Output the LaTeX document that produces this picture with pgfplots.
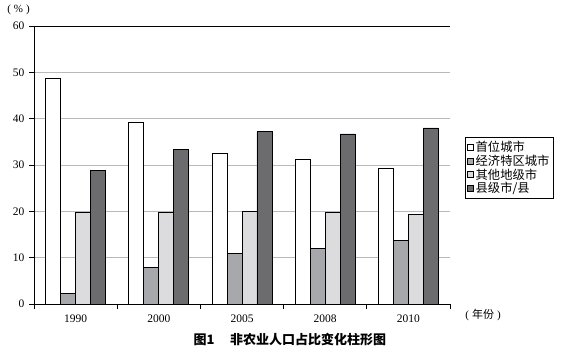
\documentclass[border=0pt]{standalone}
\usepackage{fontspec}
\setmainfont{Liberation Serif}
\newfontfamily\cjk{Noto Sans CJK SC}
\usepackage{pgfplots}
\pgfplotsset{compat=1.18}
\definecolor{cA}{HTML}{FFFFFF}
\definecolor{cB}{HTML}{A7A8AC}
\definecolor{cC}{HTML}{DCDCDE}
\definecolor{cD}{HTML}{6C6C6F}
\begin{document}
\begin{tikzpicture}
\path[use as bounding box] (-34pt,-49pt) rectangle (546pt,304pt);
\begin{axis}[
  scale only axis, width=416pt, height=278pt,
  at={(0pt,0pt)}, anchor=south west,
  xmin=0, xmax=5, ymin=0, ymax=60,
  axis x line=box, axis y line=left,
  axis line style={-, black, line width=0.8pt},
  x axis line style={-}, y axis line style={-},
  tick align=outside,
  xtick={0.5,1.5,2.5,3.5,4.5},
  xticklabels={1990,2000,2005,2008,2010},
  major x tick style={draw=none},
  minor xtick={0,1,2,3,4,5},
  minor tick length=5pt,
  major tick length=5pt,
  xtick pos=bottom, ytick pos=left,
  every tick/.style={black, line width=0.8pt},
  ytick={0,10,...,60},
  ymajorgrids, major grid style={draw=gray!55, line width=0.7pt},
  /pgf/number format/assume math mode=true,
  tick label style={font=\fontsize{11.5}{13}\selectfont},
  xticklabel style={yshift=-2pt},
  yticklabel style={xshift=-1pt},
  ybar, bar width=0.18,
  every axis plot/.append style={draw=black, line width=0.8pt},
  legend style={at={(1.036,0.601)}, anchor=north west, draw=black, line width=0.6pt,
    font=\cjk\fontsize{12.3}{13}\selectfont, row sep=-2.2pt, inner xsep=2pt, inner ysep=2pt},
  legend cell align=left,
  legend image code/.code={\draw[#1, line width=0.4pt] (0pt,-3pt) rectangle (6pt,3pt);},
]
\addplot[fill=cA, bar shift=-0.27] coordinates {(0.5,48.6) (1.5,39.3) (2.5,32.4) (3.5,31.3) (4.5,29.3)};
\addplot[fill=cB, bar shift=-0.09] coordinates {(0.5,2.3) (1.5,7.8) (2.5,10.9) (3.5,12.0) (4.5,13.7)};
\addplot[fill=cC, bar shift=0.09] coordinates {(0.5,19.8) (1.5,19.8) (2.5,20.0) (3.5,19.8) (4.5,19.3)};
\addplot[fill=cD, bar shift=0.27] coordinates {(0.5,28.9) (1.5,33.3) (2.5,37.2) (3.5,36.7) (4.5,38.0)};
\legend{首位城市,经济特区城市,其他地级市,县级市/县}
\end{axis}
\node[font=\fontsize{11}{12}\selectfont] at (-15.5pt,294pt) {(\hspace{3pt}\%\hspace{3pt})};
\node[font=\fontsize{11}{12}\selectfont] at (449pt,-11pt) {(\hspace{3pt}{\cjk 年份}\hspace{3pt})};
\node[font=\cjk\bfseries\fontsize{13}{14}\selectfont] at (256pt,-36pt) {图1\hspace{1.2em}非农业人口占比变化柱形图};
\end{tikzpicture}
\end{document}
